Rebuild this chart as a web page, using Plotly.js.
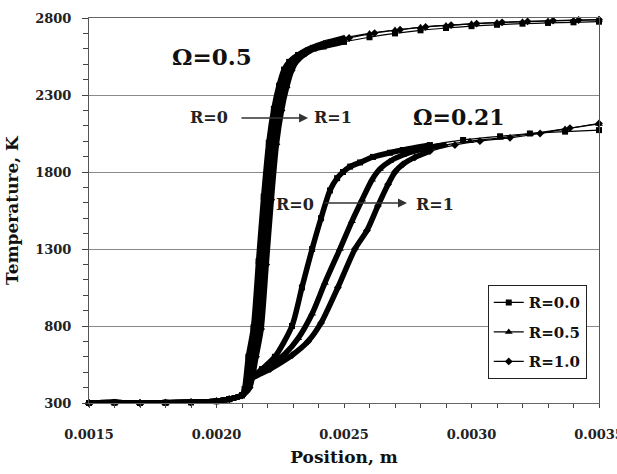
<!DOCTYPE html>
<html><head><meta charset="utf-8">
<script src="https://cdn.plot.ly/plotly-3.0.1.min.js"></script>
<style>html,body{margin:0;padding:0;background:#fff}#chart{width:617px;height:474px}</style>
</head><body><div id="chart"></div>
<script>
const xTickVals = [0.0015, 0.0020, 0.0025, 0.0030, 0.0035];
const xTickText = ['0.0015', '0.0020', '0.0025', '0.0030', '0.0035'];
const yTickVals = [300, 800, 1300, 1800, 2300, 2800];
const yTickText = ['300', '800', '1300', '1800', '2300', '2800'];
const seriesNames = ['R=0.0', 'R=0.5', 'R=1.0'];

// shared cold region (before ignition)
const baseX = [0.0015, 0.0016, 0.0017, 0.0018, 0.0019, 0.0020, 0.00205, 0.0021];
const baseT = [300, 303, 300, 302, 305, 312, 325, 350];

// Omega = 0.5
const om05_R00_x = [0.00211, 0.002125, 0.002145, 0.002165, 0.002185, 0.002205, 0.002225, 0.002245, 0.002265, 0.002285, 0.00232, 0.00236, 0.00242, 0.0025, 0.0026, 0.0027, 0.0028, 0.0029, 0.0030, 0.0031, 0.0032, 0.0033, 0.0034, 0.0035];
const om05_R00_T = [390, 600, 790, 1220, 1640, 1990, 2210, 2360, 2465, 2515, 2560, 2590, 2615, 2645, 2675, 2700, 2720, 2735, 2747, 2756, 2763, 2768, 2772, 2776];
const om05_R05_x = [0.00212, 0.00214, 0.00216, 0.00218, 0.0022, 0.00222, 0.00224, 0.00226, 0.00228, 0.0023, 0.00233, 0.00237, 0.00242, 0.0025, 0.0026, 0.0027, 0.0028, 0.0029, 0.0030, 0.0031, 0.0032, 0.0033, 0.0034, 0.0035];
const om05_R05_T = [400, 600, 780, 1200, 1620, 1980, 2200, 2350, 2460, 2520, 2570, 2605, 2635, 2670, 2700, 2722, 2740, 2752, 2762, 2770, 2776, 2781, 2785, 2788];
const om05_R10_x = [0.00213, 0.002155, 0.002175, 0.002195, 0.002215, 0.002235, 0.002255, 0.002275, 0.002295, 0.002315, 0.00235, 0.00239, 0.00244, 0.00252, 0.00262, 0.00272, 0.00282, 0.00292, 0.00302, 0.00312, 0.00322, 0.00332, 0.00342, 0.0035];
const om05_R10_T = [400, 600, 780, 1200, 1620, 1980, 2200, 2350, 2460, 2520, 2570, 2605, 2635, 2670, 2702, 2724, 2742, 2754, 2764, 2772, 2778, 2783, 2787, 2790];

// Omega = 0.21
const om021_R00_x = [0.00212, 0.002131, 0.002178, 0.002229, 0.002296, 0.002335, 0.002375, 0.00241, 0.002445, 0.002473, 0.002496, 0.002524, 0.002563, 0.002614, 0.00268, 0.002731, 0.002837, 0.002967, 0.003112, 0.003229, 0.003367, 0.0035];
const om021_R00_T = [390, 450, 520, 600, 800, 1050, 1300, 1500, 1680, 1760, 1800, 1835, 1862, 1898, 1925, 1943, 1975, 2008, 2032, 2050, 2062, 2072];
const om021_R05_x = [0.00212, 0.002131, 0.002202, 0.002269, 0.00232, 0.002375, 0.002425, 0.002484, 0.002531, 0.002571, 0.00261, 0.002641, 0.00268, 0.002731, 0.002798, 0.002896, 0.002994, 0.003112, 0.003229, 0.003367, 0.0035];
const om021_R05_T = [390, 450, 530, 620, 720, 880, 1080, 1300, 1480, 1620, 1750, 1820, 1870, 1910, 1945, 1975, 2000, 2022, 2047, 2080, 2112];
const om021_R10_x = [0.00212, 0.002131, 0.00221, 0.002296, 0.002359, 0.00241, 0.002476, 0.002543, 0.00259, 0.002633, 0.002673, 0.0027, 0.002731, 0.002778, 0.002837, 0.002935, 0.003033, 0.003151, 0.003269, 0.003386, 0.0035];
const om021_R10_T = [390, 450, 520, 610, 700, 820, 1050, 1300, 1420, 1580, 1720, 1800, 1850, 1895, 1935, 1975, 2000, 2022, 2050, 2085, 2115];

const symbols = ['square', 'triangle-up', 'diamond'];
const symSizes = [6, 7, 6];
const groups = [
  {xs: [om05_R00_x, om05_R05_x, om05_R10_x], ts: [om05_R00_T, om05_R05_T, om05_R10_T], cut: 0.0025, legend: true},
  {xs: [om021_R00_x, om021_R05_x, om021_R10_x], ts: [om021_R00_T, om021_R05_T, om021_R10_T], cut: 0.0029, legend: false}
];

const traces = [];
groups.forEach(g => {
  for (let i = 0; i < 3; i++) {
    const x = baseX.concat(g.xs[i]);
    const y = baseT.concat(g.ts[i]);
    const tx = [], ty = [];
    x.forEach((v, k) => { if (v <= g.cut) { tx.push(v); ty.push(y[k]); } });
    traces.push({x: tx, y: ty, type: 'scatter', mode: 'lines', line: {color: '#000', width: 5.5, shape: 'spline', smoothing: 0.7}, showlegend: false, hoverinfo: 'skip', cliponaxis: false});
  }
});
groups.forEach(g => {
  for (let i = 0; i < 3; i++) {
    traces.push({
      x: baseX.concat(g.xs[i]), y: baseT.concat(g.ts[i]), type: 'scatter', mode: 'lines+markers',
      name: seriesNames[i], legendgroup: 'g' + i, showlegend: g.legend,
      line: {color: '#000', width: 1.2, shape: 'spline', smoothing: 0.7},
      marker: {symbol: symbols[i], size: symSizes[i], color: '#000'},
      cliponaxis: false
    });
  }
});

const serif = 'DejaVu Serif, Liberation Serif, serif';
const layout = {
  width: 617, height: 474,
  margin: {l: 89, r: 18, t: 18, b: 71},
  paper_bgcolor: '#fff', plot_bgcolor: '#fff',
  font: {family: serif, color: '#111'},
  showlegend: true,
  legend: {
    x: 0.976, y: 0.306, xanchor: 'right', yanchor: 'top',
    bgcolor: '#fff', bordercolor: '#222', borderwidth: 1,
    font: {family: serif, size: 15, color: '#111', weight: 'bold'},
    traceorder: 'grouped', tracegroupgap: 7, itemwidth: 30
  },
  xaxis: {
    range: [0.0015, 0.0035000001], tickvals: xTickVals, ticktext: xTickText,
    ticklabeloverflow: 'allow',
    ticks: 'outside', ticklen: 4, tickcolor: '#444', tickwidth: 1,
    minor: {dtick: 0.0001, ticks: 'outside', ticklen: 4, tickcolor: '#444', showgrid: false},
    showgrid: false, zeroline: false,
    showline: true, linecolor: '#666', linewidth: 1, mirror: true,
    tickfont: {family: serif, size: 13, color: '#222', weight: 'bold'},
    ticklabelstandoff: 15,
    title: {text: 'Position, m', font: {family: serif, size: 17, color: '#111', weight: 'bold'}, standoff: 10}
  },
  yaxis: {
    range: [300, 2800], tickvals: yTickVals, ticktext: yTickText,
    ticks: 'outside', ticklen: 6, tickcolor: '#444', tickwidth: 1,
    minor: {dtick: 100, ticks: 'outside', ticklen: 5, tickcolor: '#444', showgrid: false},
    showgrid: true, gridcolor: '#8a8a8a', gridwidth: 1, zeroline: false,
    showline: true, linecolor: '#555', linewidth: 1, mirror: true,
    tickfont: {family: serif, size: 13, color: '#222', weight: 'bold'},
    ticklabelstandoff: 8,
    title: {text: 'Temperature, K', font: {family: serif, size: 17, color: '#111', weight: 'bold'}, standoff: 12}
  },
  annotations: [
    {x: 0.001982, y: 2547, text: 'Ω=0.5', showarrow: false, font: {family: serif, size: 23, color: '#111', weight: 'bold'}},
    {x: 0.002951, y: 2157, text: 'Ω=0.21', showarrow: false, font: {family: serif, size: 22, color: '#111', weight: 'bold'}},
    {x: 0.001971, y: 2157, text: 'R=0', showarrow: false, font: {family: serif, size: 16, color: '#222', weight: 'bold'}},
    {x: 0.002457, y: 2157, text: 'R=1', showarrow: false, font: {family: serif, size: 16, color: '#222', weight: 'bold'}},
    {x: 0.002308, y: 1592, text: 'R=0', showarrow: false, font: {family: serif, size: 16, color: '#222', weight: 'bold'}},
    {x: 0.002857, y: 1592, text: 'R=1', showarrow: false, font: {family: serif, size: 16, color: '#222', weight: 'bold'}},
    {x: 0.002359, y: 2151, ax: 0.002092, ay: 2151, axref: 'x', ayref: 'y', text: '', showarrow: true, arrowhead: 2, arrowsize: 1.2, arrowwidth: 1.5, arrowcolor: '#333'},
    {x: 0.002747, y: 1599, ax: 0.002418, ay: 1599, axref: 'x', ayref: 'y', text: '', showarrow: true, arrowhead: 2, arrowsize: 1.2, arrowwidth: 1.5, arrowcolor: '#333'}
  ]
};
Plotly.newPlot('chart', traces, layout, {displayModeBar: false, staticPlot: true});
</script></body></html>
